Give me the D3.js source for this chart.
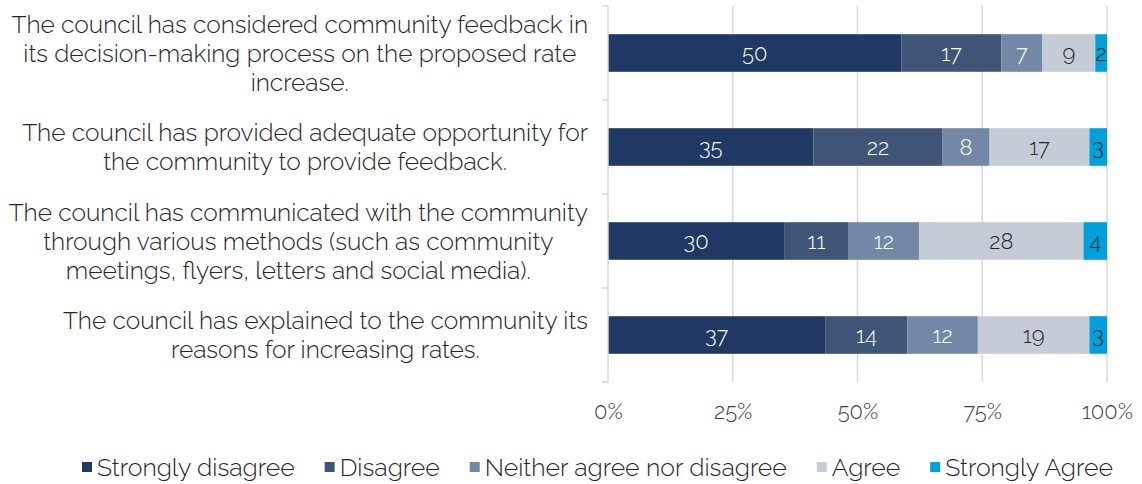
<!DOCTYPE html>
<html>
<head>
<meta charset="utf-8">
<script src="https://cdn.jsdelivr.net/npm/d3@7"></script>
<style>
  body { margin: 0; background: #fff; }
  text { font-family: Raleway, Lato, "Open Sans", sans-serif; font-weight: 300; }
</style>
</head>
<body>
<script>
const categories = [
  'The council has considered community feedback in|its decision-making process on the proposed rate|increase.',
  'The council has provided adequate opportunity for|the community to provide feedback.',
  'The council has communicated with the community|through various methods (such as community|meetings, flyers, letters and social media).',
  'The council has explained to the community its|reasons for increasing rates.'
]
const seriesNames = ['Strongly disagree', 'Disagree', 'Neither agree nor disagree', 'Agree', 'Strongly Agree']
const stronglyDisagree = [50, 35, 30, 37]
const disagree = [17, 22, 11, 14]
const neither = [7, 8, 12, 12]
const agree = [9, 17, 28, 19]
const stronglyAgree = [2, 3, 4, 3]
const tickLabels = ['0%', '25%', '50%', '75%', '100%']
const colors = ['#1f3864', '#3f5577', '#7388a7', '#c6ccd6', '#00a0dc']
const labelColors = ['#fff', '#fff', '#fff', '#262626', '#262626']

const width = 1142
const height = 484
const margin = { left: 608, right: 35, top: 6, bottom: 102 }

const svg = d3.select('body')
  .append('svg')
  .attr('width', width)
  .attr('height', height)

const values = [stronglyDisagree, disagree, neither, agree, stronglyAgree]
const rows = categories.map((c, i) => {
  const row = { cat: c }
  seriesNames.forEach((s, j) => { row[s] = values[j][i] })
  return row
})

const x = d3.scaleLinear()
  .domain([0, 1])
  .range([margin.left, width - margin.right])

const y = d3.scaleBand()
  .domain(categories)
  .range([margin.top, height - margin.bottom])
  .paddingInner(0.6)
  .paddingOuter(0.3)

// gridlines
svg.append('g')
  .selectAll('line')
  .data([0.25, 0.5, 0.75, 1])
  .enter()
  .append('line')
  .attr('x1', d => x(d))
  .attr('x2', d => x(d))
  .attr('y1', margin.top)
  .attr('y2', height - margin.bottom)
  .attr('stroke', '#d9d9d9')
  .attr('stroke-width', 1.5)

const stack = d3.stack()
  .keys(seriesNames)
  .offset(d3.stackOffsetExpand)(rows)

const layers = svg.append('g')
  .selectAll('g')
  .data(stack)
  .enter()
  .append('g')
  .attr('fill', (d, i) => colors[i])

layers.selectAll('rect')
  .data(d => d)
  .enter()
  .append('rect')
  .attr('x', d => x(d[0]))
  .attr('width', d => x(d[1]) - x(d[0]))
  .attr('y', d => y(d.data.cat))
  .attr('height', y.bandwidth())

layers.each(function (layer, i) {
  d3.select(this).selectAll('text')
    .data(layer)
    .enter()
    .append('text')
    .attr('x', d => (x(d[0]) + x(d[1])) / 2)
    .attr('y', d => y(d.data.cat) + y.bandwidth() / 2)
    .attr('dy', '0.35em')
    .attr('text-anchor', 'middle')
    .attr('font-size', 22)
    .attr('fill', labelColors[i])
    .text(d => d.data[layer.key])
})

// left axis
const yAxis = svg.append('g')
  .attr('transform', `translate(${margin.left},0)`)
  .call(d3.axisLeft(y).tickSize(0).tickFormat(''))
yAxis.select('.domain').attr('stroke', '#d9d9d9').attr('stroke-width', 1.5)
  .attr('d', `M0,${margin.top}V${height - margin.bottom}H-6`)

// ticks between categories
const bounds = [margin.top].concat(categories.slice(1).map(c => y(c) - y.step() * y.paddingInner() / 2), [height - margin.bottom])
yAxis.selectAll('.sep')
  .data(bounds)
  .enter()
  .append('line')
  .attr('x1', -6)
  .attr('x2', 0)
  .attr('y1', d => d)
  .attr('y2', d => d)
  .attr('stroke', '#d9d9d9')
  .attr('stroke-width', 1.5)

// category labels
const labelRight = 588
categories.forEach(c => {
  const lines = c.split('|')
  const g = svg.append('g')
  const texts = g.selectAll('text')
    .data(lines)
    .enter()
    .append('text')
    .attr('font-size', 24.5)
    .attr('fill', '#262626')
    .text(d => d)
  const maxW = d3.max(texts.nodes(), n => n.getComputedTextLength())
  const lh = 29
  const cy = y(c) + y.bandwidth() / 2
  texts.attr('x', labelRight - maxW / 2)
    .attr('text-anchor', 'middle')
    .attr('y', (d, i) => cy + (i - (lines.length - 1) / 2) * lh)
    .attr('dy', '0.35em')
})

// bottom axis labels
svg.append('g')
  .attr('transform', `translate(0,${height - margin.bottom})`)
  .call(d3.axisBottom(x).tickValues([0, 0.25, 0.5, 0.75, 1]).tickSize(0).tickPadding(21)
    .tickFormat((d, i) => tickLabels[i]))
  .call(g => g.select('.domain').remove())
  .selectAll('text')
  .attr('font-size', 22)
  .attr('fill', '#404040')
  .style('font-family', 'Raleway, Lato, "Open Sans", sans-serif')

// legend
const legend = svg.append('g')
  .attr('transform', `translate(82,467)`)
let lx = 0
seriesNames.forEach((s, i) => {
  const item = legend.append('g').attr('transform', `translate(${lx},0)`)
  item.append('rect')
    .attr('x', 0)
    .attr('y', -5)
    .attr('width', 10)
    .attr('height', 10)
    .attr('fill', colors[i])
  const t = item.append('text')
    .attr('x', 15)
    .attr('dy', '0.35em')
    .attr('font-size', 24.8)
    .attr('fill', '#262626')
    .text(s)
  lx += 15 + t.node().getComputedTextLength() + 30
})
</script>
</body>
</html>
